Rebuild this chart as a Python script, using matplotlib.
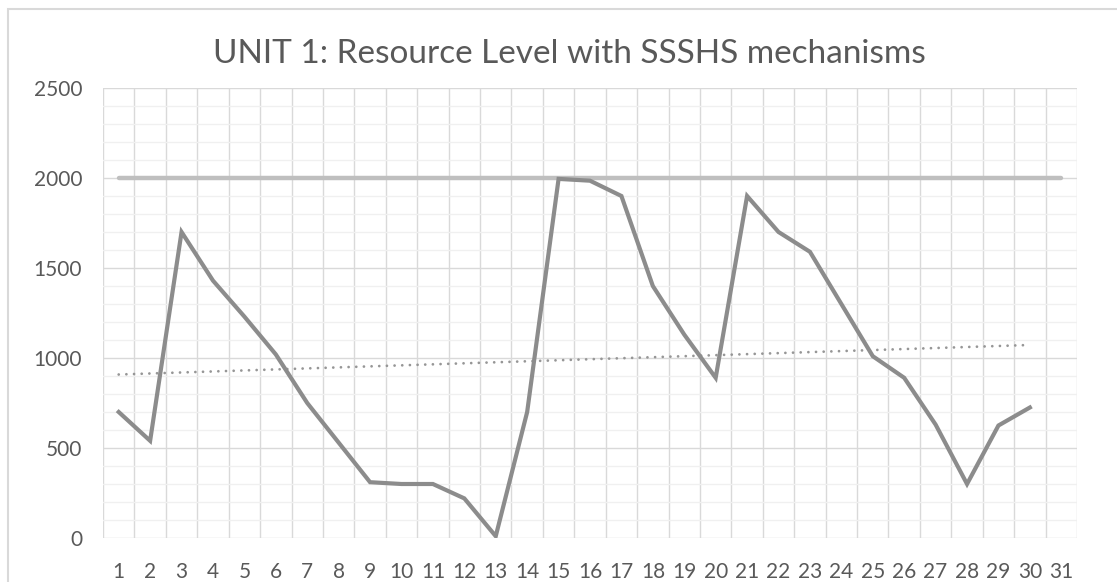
import numpy as np
import matplotlib
matplotlib.use("Agg")
import matplotlib.pyplot as plt
from matplotlib.patches import Rectangle
from matplotlib.ticker import MultipleLocator

plt.rcParams['font.family'] = ['Lato', 'DejaVu Sans']

# data
days = list(range(1, 32))
resource = [700, 540, 1700, 1430, 1230, 1020, 750, 530, 310, 300,
            300, 220, 10, 700, 1995, 1985, 1900, 1400, 1130, 890,
            1900, 1700, 1590, 1300, 1010, 890, 630, 300, 625, 725]
capacity = [2000] * 31

W, H = 1117, 582
fig = plt.figure(figsize=(W / 100, H / 100), dpi=100)
ax = fig.add_axes([103 / W, 44 / H, (1077 - 103) / W, (538 - 88) / H])

# chart area border (cut off on the right and bottom)
fig.patches.append(Rectangle((8 / W, -0.1), 1.2, 1 - 9 / H + 0.1,
                             transform=fig.transFigure, fill=False,
                             edgecolor='#d9d9d9', lw=1.5))

x_res = np.array(days[:len(resource)])
ax.plot(days, capacity, color='#bfbfbf', lw=3.2, solid_capstyle='round', zorder=3)
ax.plot(x_res, resource, color='#8c8c8c', lw=3.0, solid_joinstyle='miter', zorder=4)

# linear trendline of the resource series
k, b = np.polyfit(x_res, resource, 1)
ax.plot(x_res, k * x_res + b, color='#969696', lw=2.0,
        linestyle=(0, (0.01, 2.75)), dash_capstyle='round', zorder=3)

ax.set_xlim(0.5, 31.5)
ax.set_ylim(0, 2500)
ax.set_xticks(days)
ax.set_xticks(np.arange(0.5, 32, 1), minor=True)
ax.yaxis.set_major_locator(MultipleLocator(500))
ax.yaxis.set_minor_locator(MultipleLocator(100))

ax.grid(which='major', axis='y', color='#d9d9d9', lw=1.0)
ax.grid(which='minor', axis='y', color='#f0f0f0', lw=1.0)
ax.grid(which='minor', axis='x', color='#d9d9d9', lw=1.0)
ax.set_axisbelow(True)
for s in ax.spines.values():
    s.set_visible(False)

ax.tick_params(which='both', length=0)
ax.tick_params(axis='y', labelsize=15, labelcolor='#595959', pad=15)
ax.tick_params(axis='x', labelsize=15, labelcolor='#595959', pad=17)

fig.text(569 / W, 1 - 54 / H, 'UNIT 1: Resource Level with SSSHS mechanisms',
         ha='center', va='center', fontsize=24, color='#595959')

fig.savefig('out.png', dpi=100)
